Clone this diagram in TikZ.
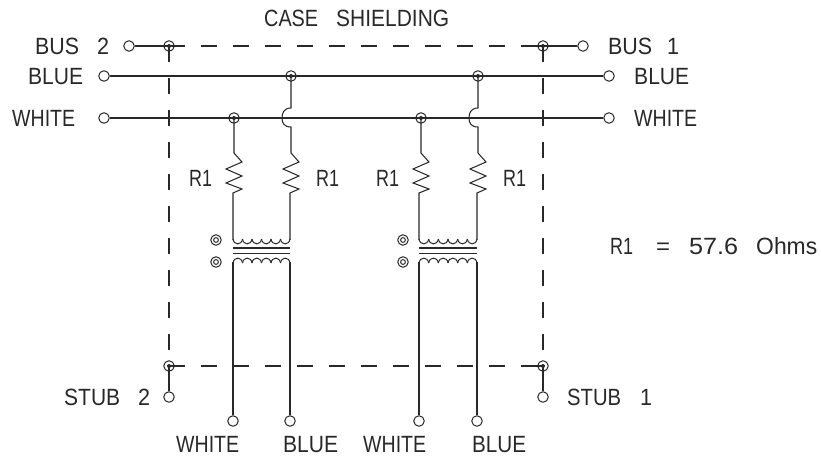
\documentclass[tikz,border=0pt]{standalone}
\usepackage{fontspec}
\setmainfont{Liberation Sans}
\usepackage{xcolor}
\usetikzlibrary{positioning}
\definecolor{wireink}{RGB}{40,40,40}
\newcommand{\fitword}[2]{{\fontsize{23.5}{23.5}\selectfont
  \setbox0=\hbox{#2}\pgfmathsetmacro{\wordstretch}{#1/\the\wd0}%
  \fontspec{Liberation Sans}[FakeStretch=\wordstretch]#2}}

\begin{document}
\begin{tikzpicture}[
  x=1pt,y=-1pt,
  wire/.style={draw=wireink,line width=1.05pt},
  shield/.style={wire,dash pattern=on 16pt off 16pt},
  term/.style={circle,draw=wireink,line width=1pt,minimum size=10.5pt,inner sep=0pt},
  junc/.style={circle,draw=wireink,line width=1pt,minimum size=10.5pt,inner sep=0pt,
               path picture={\fill[wireink] (path picture bounding box.center) circle (2pt);}},
  ring/.style={circle,draw=wireink,line width=1pt,minimum size=10.5pt,inner sep=0pt,
               path picture={\draw[wireink,line width=1pt] (path picture bounding box.center) circle (2.4pt);}},
  lab/.style={anchor=west,text=wireink,inner sep=0pt,text height=17pt,text depth=0pt}
]
\useasboundingbox (0,0) rectangle (821,457);

% terminals
\node[term] (bus2)   at (129,46)  {};
\node[term] (bus1)   at (583,46)  {};
\node[term] (blue2)  at (104,76)  {};
\node[term] (blue1)  at (609,76)  {};
\node[term] (white2) at (104,118) {};
\node[term] (white1) at (609,118) {};
\node[term] (stub2)  at (169,397) {};
\node[term] (stub1)  at (543,397) {};
\node[term] (outa)   at (233,421) {};
\node[term] (outb)   at (290,421) {};
\node[term] (outc)   at (419,421) {};
\node[term] (outd)   at (477,421) {};

% junctions
\node[junc] (jbus2) at (169,46)  {};
\node[junc] (jbus1) at (543,46)  {};
\node[junc] (jstb2) at (169,366) {};
\node[junc] (jstb1) at (543,366) {};
\node[junc] (jbla)  at (291,76)  {};
\node[junc] (jblb)  at (478,76)  {};
\node[junc] (jwha)  at (234,118) {};
\node[junc] (jwhb)  at (421,118) {};

% dots of the transformers
\node[ring] (dota) at (216,240) {};
\node[ring] (dotb) at (216,262) {};
\node[ring] (dotc) at (403,240) {};
\node[ring] (dotd) at (403,262) {};

% buses
\draw[wire] (bus2)--(jbus2.center);
\draw[wire] (jbus1.center)--(bus1);
\draw[wire] (blue2)--(blue1);
\draw[wire] (white2)--(white1);
\draw[wire] (jstb2.center)--(stub2);
\draw[wire] (jstb1.center)--(stub1);

% case shielding
\draw[shield] (jbus2.center)--(jbus1.center);
\draw[shield] (jstb2.center)--(jstb1.center);
\draw[shield] (jbus2.center)--(jstb2.center);
\draw[shield] (jbus1.center)--(jstb1.center);
\draw[wire] (jbus1.center)--++(-21,0);
\draw[wire] (jstb1.center)--++(-21,0);

% white legs
\foreach \jn/\jx/\lx/\tn in {jwha/234/233/outa,jwhb/421/419/outc}{
  \draw[wire] (\jn.center)--(\jx,153)--(\jx+8,162)--(\jx-8,169)--(\jx+8,176)--(\jx-8,183)
    --(\jx+8,189)--(\lx,193)--(\lx,240);
  \draw[wire] (\tn)--(\lx,262);
}
% blue legs, with the jump over the white line
\foreach \jn/\jx/\lx/\tn in {jbla/291/290/outb,jblb/478/477/outd}{
  \draw[wire] (\jn.center)--(\jx,108) .. controls (\jx-7,108) and (\jx-9,113) .. (\jx-9,118)
    .. controls (\jx-9,123) and (\jx-7,127) .. (\jx,127)--(\jx,153)--(\jx+8,162)--(\jx-8,169)
    --(\jx+8,176)--(\jx-8,183)--(\jx+8,189)--(\lx,193)--(\lx,240);
  \draw[wire] (\tn)--(\lx,262);
}

% transformers
\foreach \cx/\cw in {233/9.5,419/9.667}{
  \draw[wire] (\cx,248)--++(6*\cw,0);
  \draw[wire] (\cx,253.5)--++(6*\cw,0);
  \foreach \k in {0,...,5}{
    \draw[wire,line width=1pt] (\cx+\k*\cw,239) .. controls (\cx+\k*\cw+1,245.5) and (\cx+\k*\cw+\cw-1,245.5) .. (\cx+\k*\cw+\cw,239);
    \draw[wire,line width=1pt] (\cx+\k*\cw,263) .. controls (\cx+\k*\cw+1,256.5) and (\cx+\k*\cw+\cw-1,256.5) .. (\cx+\k*\cw+\cw,263);
  }
}

% labels
\node[lab] (lshield) at (264,18)  {\fitword{54}{CASE}\hspace{18pt}\fitword{113}{SHIELDING}};
\node[lab] (lbus2)   at (35,46)   {\fitword{44}{BUS}\hspace{18pt}\fitword{12}{2}};
\node[lab] (lbus1)   at (608,46)  {\fitword{44}{BUS}\hspace{15pt}\fitword{12}{1}};
\node[lab] (lblue2)  at (28,76)   {\fitword{55}{BLUE}};
\node[lab] (lblue1)  at (634,76)  {\fitword{55}{BLUE}};
\node[lab] (lwhite2) at (12,118)  {\fitword{63}{WHITE}};
\node[lab] (lwhite1) at (634,118) {\fitword{63}{WHITE}};
\node[lab] (lra)     at (189,178) {\fitword{23}{R1}};
\node[lab] (lrb)     at (316,178) {\fitword{23}{R1}};
\node[lab] (lrc)     at (376,178) {\fitword{23}{R1}};
\node[lab] (lrd)     at (503,178) {\fitword{23}{R1}};
\node[lab] (lval)    at (610,246) {\fitword{23}{R1}\hspace{23pt}\fitword{14}{=}\hspace{19pt}\fitword{49}{57.6}\hspace{18pt}\fitword{61}{Ohms}};
\node[lab] (lstub2)  at (64,397)  {\fitword{56}{STUB}\hspace{18pt}\fitword{12}{2}};
\node[lab] (lstub1)  at (567,397) {\fitword{54}{STUB}\hspace{19pt}\fitword{12}{1}};
\node[lab] (lwa)     at (176,444) {\fitword{63}{WHITE}};
\node[lab] (lbb)     at (283,444) {\fitword{55}{BLUE}};
\node[lab] (lwc)     at (363,444) {\fitword{63}{WHITE}};
\node[lab] (lbd)     at (472,444) {\fitword{54}{BLUE}};
\end{tikzpicture}
\end{document}
